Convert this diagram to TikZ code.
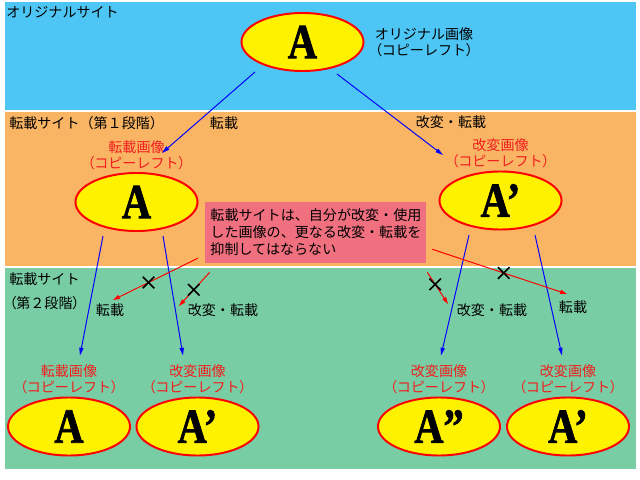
\documentclass[tikz,border=0pt]{standalone}
\usepackage{fontspec}
\setmainfont{Noto Sans CJK JP}
\newfontfamily\letterfont{Liberation Serif}[FakeStretch=0.82,BoldFeatures={FakeBold=1.5}]
\usetikzlibrary{shapes.geometric, shapes.misc, arrows.meta, positioning, calc}

\definecolor{siteblue}{RGB}{78,198,245}
\definecolor{siteorange}{RGB}{249,180,100}
\definecolor{sitegreen}{RGB}{121,205,164}
\definecolor{notepink}{RGB}{240,112,128}
\definecolor{lblred}{RGB}{240,30,30}

% proportional brackets
\newcommand{\kl}{{\addfontfeature{RawFeature=+palt}（}}
\newcommand{\kr}{{\addfontfeature{RawFeature=+palt}）}}

\begin{document}
\begin{tikzpicture}[x=0.025cm, y=-0.025cm,
        img/.style={ellipse, draw=red, line width=1.4pt, fill=yellow, inner sep=0pt,
            minimum width=3.05cm, minimum height=1.45cm,
            font=\letterfont\bfseries\fontsize{35}{35}\selectfont},
        txt/.style={inner sep=0pt, font=\fontsize{10}{11.5}\selectfont},
        redlbl/.style={txt, text=lblred, align=center},
        note/.style={rectangle, fill=notepink, inner xsep=0.125cm, text width=5.25cm,
            minimum height=1.525cm, align=left, font=\fontsize{10}{12.1}\selectfont},
        bluearr/.style={-{Triangle[length=5.5pt,width=3pt]}, blue, line width=0.7pt},
        redarr/.style={-{Triangle[length=5pt,width=3pt]}, red, line width=0.7pt},
        nogo/.style={cross out, draw=black, line width=1.1pt, inner sep=0pt, minimum size=0.25cm}
    ]
    \useasboundingbox (0,0) rectangle (640,480);

    % sites
    \fill[siteblue] (5,2) rectangle (636,109.5);
    \fill[siteorange] (5,111.5) rectangle (636,266);
    \fill[sitegreen] (5,268) rectangle (636,469);

    \node[txt, anchor=west] (site0) at (6,12) {オリジナルサイト};
    \node[txt, anchor=west] (site1) at (9,123) {転載サイト（第１段階）};
    \node[txt, anchor=west] (site2) at (9,279) {転載サイト};
    \node[txt, anchor=west] (site2b) at (9,303) {\kl 第２段階\kr};

    % images
    \node[img] (orig) at (302.5,42) {A};
    \node[img] (ten1) at (136.5,202) {A};
    \node[img] (kai1) at (500.5,200.5) {A’};
    \node[img] (ten2a) at (69,426.5) {A};
    \node[img] (ten2b) at (197.5,426.5) {A’};
    \node[img] (kai2a) at (439,426.5) {A”};
    \node[img] (kai2b) at (568,426.5) {A’};

    \node[txt, align=left, right=0.25cm of orig] (origl) {オリジナル画像\\\kl コピーレフト\kr};
    \node[redlbl, above=0.05cm of ten1] (ten1l) {転載画像\\\kl コピーレフト\kr};
    \node[redlbl, above=0.05cm of kai1] (kai1l) {改変画像\\\kl コピーレフト\kr};
    \node[redlbl, above=0.05cm of ten2a] (ten2al) {転載画像\\\kl コピーレフト\kr};
    \node[redlbl, above=0.05cm of ten2b] (ten2bl) {改変画像\\\kl コピーレフト\kr};
    \node[redlbl, above=0.05cm of kai2a] (kai2al) {改変画像\\\kl コピーレフト\kr};
    \node[redlbl, above=0.05cm of kai2b] (kai2bl) {改変画像\\\kl コピーレフト\kr};

    % rule
    \node[note] (rule) at (315.5,232.5) {転載サイトは、自分が改変・使用\\した画像の、更なる改変・転載を\\抑制してはならない};

    % allowed
    \draw[bluearr] ($(orig.south)+(-47.5,0)$) -- ($(ten1.north)+(25.5,-19)$);
    \draw[bluearr] ($(orig.south)+(34.5,2)$) -- ($(kai1.north)+(-57.5,-15.5)$);
    \draw[bluearr] ($(ten1.south)+(-33.5,4)$) -- ($(ten2a.north)+(11,-41)$);
    \draw[bluearr] ($(ten1.south)+(26.5,4)$) -- ($(ten2b.north)+(-14.5,-41)$);
    \draw[bluearr] ($(kai1.south)+(-31.5,4.5)$) -- ($(kai2a.north)+(2,-41)$);
    \draw[bluearr] ($(kai1.south)+(34.5,4.5)$) -- ($(kai2b.north)+(-6,-41)$);

    \node[txt] (a1) at (224,123) {転載};
    \node[txt] (a2) at (451,122) {改変・転載};
    \node[txt] (a3) at (110,310) {転載};
    \node[txt] (a4) at (223,310) {改変・転載};
    \node[txt] (a5) at (492,310) {改変・転載};
    \node[txt] (a6) at (573,307) {転載};

    % forbidden
    \coordinate (f1) at (113,300);
    \coordinate (f2) at (179,306);
    \coordinate (f3) at (567,294);
    \coordinate (f4) at (448,304);
    \draw[redarr] ($(rule.south west)+(-7.5,-5)$) -- node[nogo, pos=0.58] (x1) {} (f1);
    \draw[redarr] ($(rule.south west)+(4.5,9)$) -- node[nogo, pos=0.52] (x2) {} (f2);
    \draw[redarr] ($(rule.south east)+(6.5,-14)$) -- node[nogo, pos=0.53] (x3) {} (f3);
    \draw[redarr] ($(rule.south east)+(1.5,9)$) -- node[nogo, pos=0.38] (x4) {} (f4);
\end{tikzpicture}
\end{document}
